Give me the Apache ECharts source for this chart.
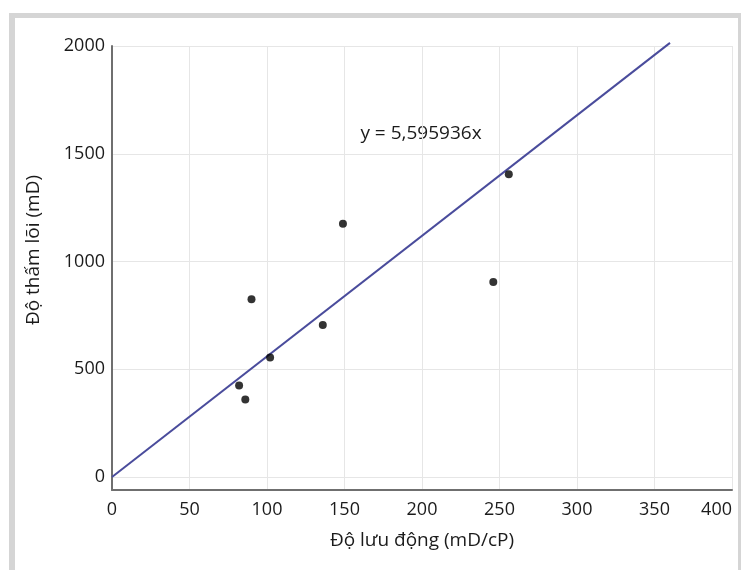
<!DOCTYPE html>
<html>
<head>
<meta charset="utf-8">
<script src="https://cdn.jsdelivr.net/npm/echarts@6/dist/echarts.min.js"></script>
<style>
  html, body { margin: 0; padding: 0; background: #ffffff; }
  #chart { width: 741px; height: 570px; }
</style>
</head>
<body>
<div id="chart"></div>
<script>
// Measured samples: mobility (mD/cP) vs core permeability (mD)
const mobility = [256, 149, 246, 90, 136, 102, 82, 86];
const permeability = [1405, 1175, 905, 825, 705, 555, 425, 360];

// Fitted trend through the origin
const slope = 5.595936;
const equationText = 'y = 5,595936x';
const trendEndX = 360;

// Tick positions
const xTicks = [0, 50, 100, 150, 200, 250, 300, 350, 400];
const yTicks = [0, 500, 1000, 1500, 2000];

const xTitle = 'Độ lưu động (mD/cP)';
const yTitle = 'Độ thấm lõi (mD)';

const FONT = '"Open Sans", "Noto Sans", sans-serif';
const FS = 18;      // tick labels
const FS_T = 19;    // titles and equation
const TEXT = '#1b1b1b';

const points = mobility.map((x, i) => [x, permeability[i]]);
const trend = [[0, 0], [trendEndX, slope * trendEndX]];
const plain = v => String(v);

const chart = echarts.init(document.getElementById('chart'), null, { renderer: 'canvas' });

chart.setOption({
  animation: false,
  backgroundColor: '#ffffff',
  graphic: [
    // grey frame around the figure
    { type: 'rect', z: -10, shape: { x: 9, y: 13, width: 740, height: 570 }, style: { fill: '#d5d5d5' }, silent: true },
    { type: 'rect', z: -9, shape: { x: 15, y: 18, width: 723, height: 560 }, style: { fill: '#ffffff' }, silent: true },
    // vertical axis title
    {
      type: 'text', rotation: Math.PI / 2, x: 34, y: 250,
      style: { text: yTitle, font: FS_T + 'px ' + FONT, fill: TEXT, align: 'center', verticalAlign: 'middle' }
    },
    // trend equation
    {
      type: 'text', x: 421, y: 134,
      style: { text: equationText, font: FS_T + 'px ' + FONT, fill: TEXT, align: 'center', verticalAlign: 'middle' }
    }
  ],
  grid: { left: 112, right: 9, top: 46, bottom: 80, containLabel: false, outerBoundsMode: 'none' },
  xAxis: {
    type: 'value', min: 0, max: 400, interval: 50,
    name: xTitle, nameLocation: 'middle', nameGap: 41,
    nameTextStyle: { fontFamily: FONT, fontSize: FS_T, color: TEXT },
    axisLine: { onZero: false, lineStyle: { color: '#6f6f6f', width: 2 } },
    axisTick: { show: false, customValues: xTicks },
    axisLabel: {
      fontFamily: FONT, fontSize: FS, color: TEXT, margin: 11,
      customValues: xTicks, formatter: plain, alignMaxLabel: 'right'
    },
    splitLine: { show: true, lineStyle: { color: '#e6e6e6', width: 1 } }
  },
  yAxis: {
    type: 'value', min: -60, max: 2000,
    axisLine: { show: true, onZero: false, lineStyle: { color: '#6f6f6f', width: 2 } },
    axisTick: { show: false, customValues: yTicks },
    axisLabel: { fontFamily: FONT, fontSize: FS, color: TEXT, margin: 7, customValues: yTicks, formatter: plain },
    splitLine: { show: true, lineStyle: { color: '#e6e6e6', width: 1 } }
  },
  series: [
    {
      type: 'line', data: trend, symbol: 'none', clip: false, z: 2,
      lineStyle: { color: '#4a4c9c', width: 2 }
    },
    {
      type: 'scatter', data: points, symbol: 'circle', symbolSize: 8, z: 3,
      itemStyle: { color: '#000000' }
    }
  ]
});
</script>
</body>
</html>
